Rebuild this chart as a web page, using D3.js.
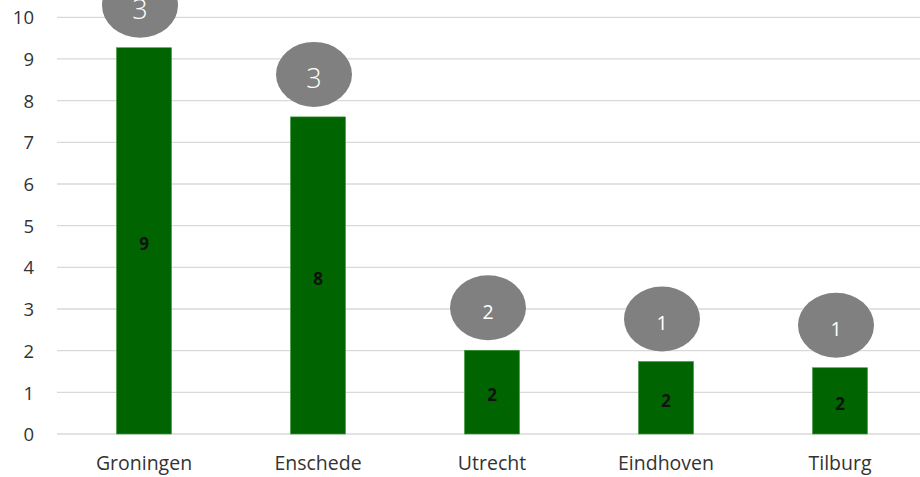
<!DOCTYPE html>
<html>
<head>
<meta charset="utf-8">
<script src="https://cdn.jsdelivr.net/npm/d3@7"></script>
<style>
  html, body { margin: 0; padding: 0; background: #ffffff; }
  svg { display: block; }
</style>
</head>
<body>
<svg id="chart" width="920" height="477"></svg>
<script>
// City scores with a secondary count shown in the grey bubbles
const cities = ["Groningen", "Enschede", "Utrecht", "Eindhoven", "Tilburg"];
const scores = [9.27, 7.61, 2.01, 1.74, 1.59];
const counts = [3, 3, 2, 1, 1];
const yTicks = [0, 1, 2, 3, 4, 5, 6, 7, 8, 9, 10];

const svg = d3.select("#chart");
const W = 920, H = 477;

const x = d3.scaleBand()
  .domain(cities)
  .range([57, 927])
  .paddingInner(0.684)
  .paddingOuter(0.342);

const y = d3.scaleLinear()
  .domain([0, 10])
  .range([434, 17.3]);

// Horizontal gridlines
svg.append("g")
  .selectAll("line")
  .data(yTicks)
  .join("line")
  .attr("x1", 57)
  .attr("x2", W)
  .attr("y1", d => y(d))
  .attr("y2", d => y(d))
  .attr("stroke", "#d9d9d9")
  .attr("stroke-width", 1.3);

// Y axis tick labels
const yAxis = d3.axisLeft(y).tickValues(yTicks).tickSize(0).tickPadding(0).tickFormat(d3.format("d"));
svg.append("g")
  .attr("transform", "translate(34,0)")
  .call(yAxis)
  .call(g => g.select(".domain").remove())
  .call(g => g.selectAll("text")
    .attr("font-family", "'Open Sans', sans-serif")
    .attr("font-size", 18.5)
    .attr("fill", "#333333")
    .attr("dy", "0.36em"));

// X axis category labels
const xAxis = d3.axisBottom(x).tickSize(0).tickPadding(0);
svg.append("g")
  .attr("transform", "translate(0,456)")
  .call(xAxis)
  .call(g => g.select(".domain").remove())
  .call(g => g.selectAll("text")
    .attr("font-family", "'Open Sans', sans-serif")
    .attr("font-size", 19.5)
    .attr("fill", "#333333")
    .attr("dy", "0.71em"));

const rows = cities.map((c, i) => ({ city: c, score: scores[i], count: counts[i] }));

// Bars
svg.append("g")
  .selectAll("rect")
  .data(rows)
  .join("rect")
  .attr("x", d => x(d.city))
  .attr("y", d => y(d.score))
  .attr("width", x.bandwidth())
  .attr("height", d => y(0) - y(d.score))
  .attr("fill", "#006400")
  .attr("stroke", "#3f9a3f")
  .attr("stroke-width", 0.6);

// Rounded score labels inside the bars
svg.append("g")
  .selectAll("text")
  .data(rows)
  .join("text")
  .attr("x", d => x(d.city) + x.bandwidth() / 2)
  .attr("y", d => (y(d.score) + y(0)) / 2 + 3)
  .attr("dy", "0.36em")
  .attr("text-anchor", "middle")
  .attr("font-family", "'Open Sans', sans-serif")
  .attr("font-weight", "bold")
  .attr("font-size", 17)
  .attr("fill", "#111")
  .text(d => d3.format(".0f")(d.score));

// Grey count bubbles above the bars
const rx = 38, ry = 32.5, gap = 10;
const bubbles = svg.append("g")
  .selectAll("g")
  .data(rows)
  .join("g")
  .attr("transform", d => `translate(${x(d.city) + x.bandwidth() / 2 - 4},${y(d.score) - gap - ry})`);

bubbles.append("ellipse")
  .attr("rx", rx)
  .attr("ry", ry)
  .attr("fill", "#808080");

// Larger counts are set in a bigger, lighter face
bubbles.append("text")
  .attr("text-anchor", "middle")
  .attr("dy", "0.36em")
  .attr("y", 4)
  .attr("font-family", "'Open Sans', sans-serif")
  .attr("font-weight", d => d.count >= 3 ? 300 : 400)
  .attr("font-size", d => d.count >= 3 ? 27 : 19.5)
  .attr("fill", "#ffffff")
  .text(d => d.count);
</script>
</body>
</html>
